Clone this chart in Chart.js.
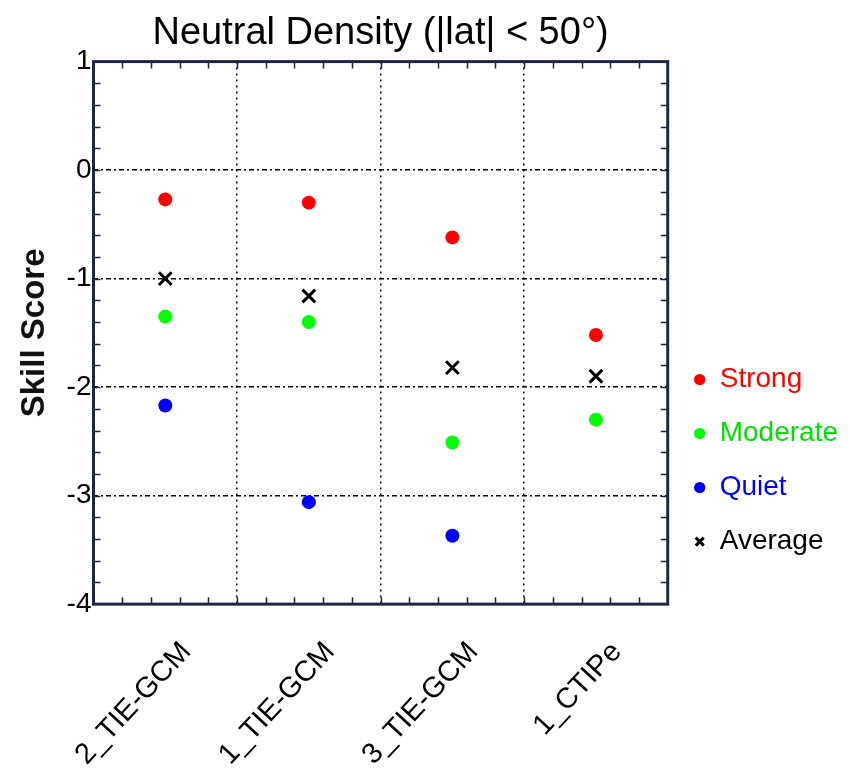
<!DOCTYPE html>
<html>
<head>
<meta charset="utf-8">
<script src="https://cdn.jsdelivr.net/npm/chart.js@4.4.0/dist/chart.umd.min.js"></script>
<style>
  html, body { margin: 0; padding: 0; background: #fff; }
  #wrap { width: 850px; height: 778px; }
</style>
</head>
<body>
<div id="wrap"><canvas id="skillChart"></canvas></div>
<script>
const categories = ['2_TIE-GCM', '1_TIE-GCM', '3_TIE-GCM', '1_CTIPe'];
const strongValues = [-0.27, -0.30, -0.62, -1.52];
const moderateValues = [-1.35, -1.40, -2.51, -2.30];
const quietValues = [-2.17, -3.06, -3.37, null];
const averageValues = [-1.00, -1.16, -1.82, -1.90];
const legendColors = ['#ff0000', '#00e000', '#0000ff', '#000000'];

const FRAME = '#1b2744';

// frame and inward minor ticks like the original plot
const frameTicks = {
    id: 'frameTicks',
    afterDraw(chart) {
        const { ctx, chartArea: a, scales } = chart;
        ctx.save();
        ctx.strokeStyle = FRAME;
        ctx.lineWidth = 1.5;
        const len = 7;
        for (let v = 0.8; v > -4; v -= 0.2) {
            const y = Math.round(scales.y.getPixelForValue(v)) + 0.5;
            ctx.beginPath();
            ctx.moveTo(a.left, y); ctx.lineTo(a.left + len, y);
            ctx.moveTo(a.right, y); ctx.lineTo(a.right - len, y);
            ctx.stroke();
        }
        for (let v = -0.3; v < 3.5; v += 0.2) {
            const x = Math.round(scales.x.getPixelForValue(v)) + 0.5;
            ctx.beginPath();
            ctx.moveTo(x, a.top); ctx.lineTo(x, a.top + len);
            ctx.moveTo(x, a.bottom); ctx.lineTo(x, a.bottom - len);
            ctx.stroke();
        }
        ctx.lineWidth = 3;
        ctx.strokeRect(a.left, a.top, a.right - a.left, a.bottom - a.top);
        ctx.restore();
    }
};

const dotSet = (label, data, color) => ({
    label,
    data,
    showLine: false,
    pointStyle: 'circle',
    pointRadius: 7,
    pointHoverRadius: 7,
    backgroundColor: color,
    borderColor: color,
    borderWidth: 0
});

new Chart(document.getElementById('skillChart'), {
    type: 'line',
    data: {
        labels: categories,
        datasets: [
            dotSet('Strong', strongValues, '#ff0000'),
            dotSet('Moderate', moderateValues, '#00ff00'),
            dotSet('Quiet', quietValues, '#0000ff'),
            {
                label: 'Average',
                data: averageValues,
                showLine: false,
                pointStyle: 'crossRot',
                pointRadius: 9,
                pointHoverRadius: 9,
                backgroundColor: '#000',
                borderColor: '#000',
                borderWidth: 3,
                pointBorderWidth: 3
            }
        ]
    },
    options: {
        responsive: true,
        maintainAspectRatio: false,
        animation: false,
        layout: { padding: { top: 4, left: 15, right: 2, bottom: -25 } },
        scales: {
            x: {
                offset: true,
                grid: {
                    color: '#000',
                    lineWidth: 1.5,
                    drawTicks: false,
                    offset: true
                },
                border: { display: false, dash: [2, 4] },
                ticks: {
                    color: '#000',
                    font: { family: 'Liberation Sans', size: 29 },
                    maxRotation: 47,
                    minRotation: 47,
                    padding: 31,
                    labelOffset: 21
                }
            },
            y: {
                min: -4,
                max: 1,
                grid: {
                    color: '#000',
                    lineWidth: 1.5,
                    drawTicks: false
                },
                border: { display: false, dash: [5, 3, 2, 3] },
                ticks: {
                    stepSize: 1,
                    color: '#000',
                    padding: 2,
                    font: { family: 'Liberation Sans', size: 28 }
                },
                title: {
                    display: true,
                    text: 'Skill Score',
                    color: '#111',
                    font: { family: 'Liberation Sans', size: 33, weight: 'bold' },
                    padding: { top: 0, bottom: 10 }
                }
            }
        },
        plugins: {
            title: {
                display: true,
                fullSize: false,
                text: 'Neutral Density (|lat| < 50°)',
                color: '#000',
                font: { family: 'Liberation Sans', size: 38, weight: 'normal' },
                padding: { top: 7, bottom: 5 }
            },
            legend: {
                position: 'right',
                title: {
                    display: true,
                    text: ' ',
                    font: { size: 26 },
                    padding: { top: 83, bottom: 0 }
                },
                labels: {
                    usePointStyle: true,
                    boxHeight: 8,
                    boxWidth: 12,
                    padding: 26,
                    font: { family: 'Liberation Sans', size: 28 },
                    generateLabels(chart) {
                        const items = Chart.defaults.plugins.legend.labels.generateLabels(chart);
                        items.forEach((item, i) => { item.fontColor = legendColors[i]; });
                        return items;
                    }
                }
            },
            tooltip: { enabled: false }
        }
    },
    plugins: [frameTicks]
});
</script>
</body>
</html>
